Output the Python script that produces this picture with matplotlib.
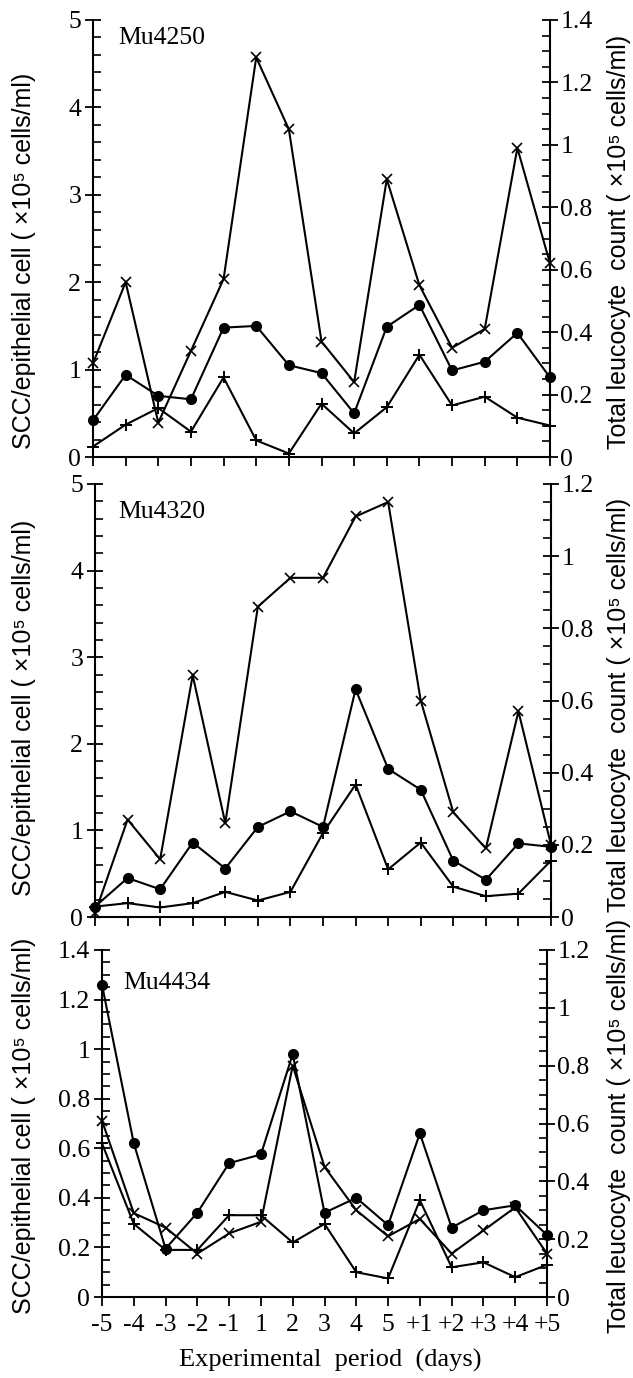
import numpy as np
import matplotlib
matplotlib.use("Agg")
import matplotlib.pyplot as plt
from matplotlib.ticker import MultipleLocator, FuncFormatter

plt.rcParams['font.family'] = ['Liberation Serif', 'DejaVu Serif']

days = ["-5", "-4", "-3", "-2", "-1", "1", "2", "3", "4", "5", "+1", "+2", "+3", "+4", "+5"]

# Mu4250
circ1 = [0.42, 0.94, 0.70, 0.66, 1.48, 1.50, 1.05, 0.96, 0.50, 1.49, 1.74, 0.99, 1.09, 1.42, 0.91]
plus1 = [0.12, 0.37, 0.56, 0.29, 0.91, 0.19, 0.04, 0.61, 0.27, 0.57, 1.17, 0.59, 0.69, 0.45, 0.36]
cross1 = [0.30, 0.56, 0.11, 0.34, 0.57, 1.28, 1.05, 0.37, 0.24, 0.89, 0.55, 0.35, 0.41, 0.99, 0.62]

# Mu4320
circ2 = [0.12, 0.45, 0.32, 0.86, 0.56, 1.04, 1.22, 1.04, 2.63, 1.71, 1.47, 0.65, 0.43, 0.85, 0.81]
plus2 = [0.12, 0.16, 0.11, 0.16, 0.29, 0.19, 0.29, 0.97, 1.53, 0.55, 0.86, 0.35, 0.24, 0.27, 0.65]
cross2 = [0.01, 0.27, 0.16, 0.67, 0.26, 0.86, 0.94, 0.94, 1.11, 1.15, 0.60, 0.29, 0.19, 0.57, 0.20]

# Mu4434
circ3 = [1.26, 0.62, 0.195, 0.34, 0.54, 0.575, 0.98, 0.34, 0.40, 0.29, 0.66, 0.28, 0.35, 0.37, 0.25]
plus3 = [0.62, 0.295, 0.19, 0.19, 0.33, 0.33, 0.22, 0.295, 0.10, 0.075, 0.39, 0.12, 0.14, 0.08, 0.13]
cross3 = [0.61, 0.29, 0.24, 0.15, 0.22, 0.26, 0.80, 0.45, 0.30, 0.21, 0.27, 0.15, 0.23, 0.31, 0.15]

names = ["Mu4250", "Mu4320", "Mu4434"]
left_label = "SCC/epithelial cell ( \u00d710\u2075 cells/ml)"
right_label = "Total leucocyte  count ( \u00d710\u2075 cells/ml)"

W, H = 633, 1378
fig = plt.figure(figsize=(W / 100, H / 100), dpi=100)

def frac_box(l, r, t, b):
    return [l / W, 1 - b / H, (r - l) / W, (b - t) / H]

panels = [
    dict(box=(93, 550, 20, 457), circ=circ1, plus=plus1, cross=cross1,
         lmax=5, lmaj=1, lmin=0.2, rmax=1.4, rmaj=0.2, rmin=0.05,
         name_xy=(118, 38), llab_y=261, rlab_y=242),
    dict(box=(95, 551, 484, 917), circ=circ2, plus=plus2, cross=cross2,
         lmax=5, lmaj=1, lmin=0.2, rmax=1.2, rmaj=0.2, rmin=0.05,
         name_xy=(118, 512), llab_y=708, rlab_y=705),
    dict(box=(102, 547, 950, 1297), circ=circ3, plus=plus3, cross=cross3,
         lmax=1.4, lmaj=0.2, lmin=0.05, rmax=1.2, rmaj=0.2, rmin=0.05,
         name_xy=(123, 983), llab_y=1126, rlab_y=1126),
]

fmt = FuncFormatter(lambda v, p: f"{v:g}")
x = np.arange(len(days))
lw = 1.5
tick_fs = 18.5

for i, p in enumerate(panels):
    ax = fig.add_axes(frac_box(*p['box']))
    ax2 = ax.twinx()
    ax.set_zorder(ax2.get_zorder() + 1)
    ax.patch.set_visible(False)

    ax.plot(x, p['circ'], color='k', lw=lw, marker='o', ms=7, clip_on=False)
    ax.plot(x, p['plus'], color='k', lw=lw, marker='+', ms=8, mew=1.4, clip_on=False)
    ax2.plot(x, p['cross'], color='k', lw=lw, marker='x', ms=7, mew=1.2, clip_on=False)

    ax.set_xlim(0, len(days) - 1)
    ax.set_ylim(0, p['lmax'])
    ax2.set_ylim(0, p['rmax'])

    for a in (ax, ax2):
        a.spines['top'].set_visible(False)
        for s in a.spines.values():
            s.set_linewidth(1.5)
    ax2.spines['left'].set_visible(False)
    ax2.spines['bottom'].set_visible(False)
    ax.spines['right'].set_visible(False)

    ax.set_xticks(x)
    if i == 2:
        ax.set_xticklabels(days, fontsize=tick_fs)
    else:
        ax.set_xticklabels([])
    ax.tick_params(axis='x', direction='out', length=6.5, width=1.3, pad=6)

    ax.yaxis.set_major_locator(MultipleLocator(p['lmaj']))
    ax.yaxis.set_minor_locator(MultipleLocator(p['lmin']))
    ax.yaxis.set_major_formatter(fmt)
    ax.tick_params(axis='y', which='major', direction='inout', length=11, width=1.3,
                   labelsize=tick_fs, pad=3)
    ax.tick_params(axis='y', which='minor', direction='in', length=6, width=1.2)

    ax2.yaxis.set_major_locator(MultipleLocator(p['rmaj']))
    ax2.yaxis.set_minor_locator(MultipleLocator(p['rmin']))
    ax2.yaxis.set_major_formatter(fmt)
    ax2.tick_params(axis='y', which='major', direction='inout', length=11, width=1.3,
                    labelsize=tick_fs, pad=2)
    ax2.tick_params(axis='y', which='minor', direction='in', length=6, width=1.2)

    nx, ny = p['name_xy']
    fig.text(nx / W, 1 - ny / H, names[i], fontsize=18.5,
             ha='left', va='center')

    fig.text(24 / W, 1 - p['llab_y'] / H, left_label, rotation=90,
             ha='center', va='center', fontsize=18,
             family=['Liberation Sans', 'DejaVu Sans'])
    fig.text(619 / W, 1 - p['rlab_y'] / H, right_label, rotation=90,
             ha='center', va='center', fontsize=18,
             family=['Liberation Sans', 'DejaVu Sans'])

fig.text(330 / W, 1 - 1360 / H, "Experimental  period  (days)", fontsize=19,
         ha='center', va='center')

fig.savefig("out.png", dpi=100)
